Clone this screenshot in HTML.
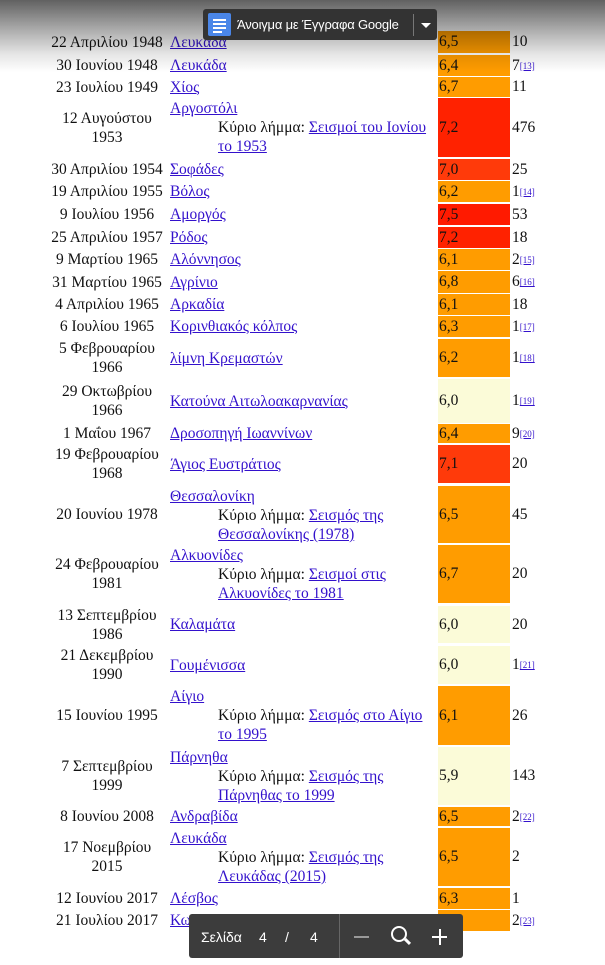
<!DOCTYPE html>
<html><head><meta charset="utf-8">
<style>
body{margin:0;width:605px;height:965px;overflow:hidden;background:#fff;position:relative;font-family:"Liberation Serif",serif;font-size:15.5px;color:#111}
.a{position:absolute}
a{color:#3311cc;text-decoration:underline}
.date{left:46px;width:122px;text-align:center;display:flex;align-items:center;justify-content:center;line-height:19px}
.place{left:170px;width:266px;line-height:19px}
.mag{left:438px;width:72px;display:flex;align-items:center;padding-left:1px;box-sizing:border-box}
.dead{left:512px;display:flex;align-items:center}
sup{font-size:9px;vertical-align:7px}
sup a{color:#3311cc}
.kl{padding-left:48px}
#fade{left:0;top:0;width:605px;height:72px;background:linear-gradient(rgba(0,0,0,.62) 0%,rgba(0,0,0,.3) 45%,rgba(0,0,0,.1) 75%,rgba(0,0,0,0) 100%);pointer-events:none}
#gdoc{left:203px;top:9px;width:234px;height:31px;background:#333;border-radius:3px;color:#fff;font-family:"Liberation Sans",sans-serif;font-size:13px}
#bar{left:189px;top:914px;width:274px;height:44px;background:#3c3c3c;border-radius:3px;color:#fff;font-family:"Liberation Sans",sans-serif;font-size:14px}
</style></head><body>
<div id="rows"></div>
<div class="a" id="fade"></div>
<div class="a" id="gdoc">
  <div class="a" style="left:5px;top:4px;width:23px;height:23px;background:#4a86e8;border-radius:2px">
    <div class="a" style="left:5px;top:6px;width:13px;height:2px;background:#fff"></div>
    <div class="a" style="left:5px;top:10px;width:13px;height:2px;background:#fff"></div>
    <div class="a" style="left:5px;top:14px;width:13px;height:2px;background:#fff"></div>
    <div class="a" style="left:5px;top:18px;width:9px;height:2px;background:#fff"></div>
  </div>
  <div class="a" style="left:34px;top:8px;letter-spacing:-0.2px">Άνοιγμα με Έγγραφα Google</div>
  <div class="a" style="left:210px;top:5px;width:1px;height:22px;background:#777"></div>
  <div class="a" style="left:218px;top:14px;width:0;height:0;border-left:5px solid transparent;border-right:5px solid transparent;border-top:5px solid #fff"></div>
</div>
<div class="a" id="bar">
  <div class="a" style="left:12px;top:15px">Σελίδα</div>
  <div class="a" style="left:70px;top:15px">4</div>
  <div class="a" style="left:96px;top:15px">/</div>
  <div class="a" style="left:121px;top:15px">4</div>
  <div class="a" style="left:150px;top:0;width:1px;height:44px;background:#666"></div>
  <div class="a" style="left:165px;top:22px;width:15px;height:2px;background:#999"></div>
  <div class="a" style="left:202px;top:12px;width:12px;height:12px;border:2px solid #fff;border-radius:50%"></div>
  <div class="a" style="left:215px;top:26px;width:7px;height:3px;background:#fff;transform:rotate(45deg)"></div>
  <div class="a" style="left:243px;top:22px;width:15px;height:2px;background:#fff"></div>
  <div class="a" style="left:249.5px;top:15px;width:2px;height:16px;background:#fff"></div>
</div>
<script>
const tops=[31,55,77,98,159,181,204,227,249,271,294,316,339,379,424,445,486,545,606,646,686,747,807,828,888,910];
const bottoms=[53,76,97,157,180,202,225,248,270,293,315,337,377,423,443,483,543,603,643,684,745,805,826,886,909,931];
const dates=[["22 Απριλίου 1948"],["30 Ιουνίου 1948"],["23 Ιουλίου 1949"],["12 Αυγούστου","1953"],["30 Απριλίου 1954"],["19 Απριλίου 1955"],["9 Ιουλίου 1956"],["25 Απριλίου 1957"],["9 Μαρτίου 1965"],["31 Μαρτίου 1965"],["4 Απριλίου 1965"],["6 Ιουλίου 1965"],["5 Φεβρουαρίου","1966"],["29 Οκτωβρίου","1966"],["1 Μαΐου 1967"],["19 Φεβρουαρίου","1968"],["20 Ιουνίου 1978"],["24 Φεβρουαρίου","1981"],["13 Σεπτεμβρίου","1986"],["21 Δεκεμβρίου","1990"],["15 Ιουνίου 1995"],["7 Σεπτεμβρίου","1999"],["8 Ιουνίου 2008"],["17 Νοεμβρίου","2015"],["12 Ιουνίου 2017"],["21 Ιουλίου 2017"]];
const places=["Λευκάδα","Λευκάδα","Χίος","Αργοστόλι","Σοφάδες","Βόλος","Αμοργός","Ρόδος","Αλόννησος","Αγρίνιο","Αρκαδία","Κορινθιακός κόλπος","λίμνη Κρεμαστών","Κατούνα Αιτωλοακαρνανίας","Δροσοπηγή Ιωαννίνων","Άγιος Ευστράτιος","Θεσσαλονίκη","Αλκυονίδες","Καλαμάτα","Γουμένισσα","Αίγιο","Πάρνηθα","Ανδραβίδα","Λευκάδα","Λέσβος","Κως"];
const mains={3:["Σεισμοί του Ιονίου ","το 1953"],16:["Σεισμός της ","Θεσσαλονίκης (1978)"],17:["Σεισμοί στις ","Αλκυονίδες το 1981"],20:["Σεισμός στο Αίγιο ","το 1995"],21:["Σεισμός της ","Πάρνηθας το 1999"],23:["Σεισμός της ","Λευκάδας (2015)"]};
const mags=[6.5,6.4,6.7,7.2,7.0,6.2,7.5,7.2,6.1,6.8,6.1,6.3,6.2,6.0,6.4,7.1,6.5,6.7,6.0,6.0,6.1,5.9,6.5,6.5,6.3,6.4];
const deaths=["10","7","11","476","25","1","53","18","2","6","18","1","1","1","9","20","45","20","20","1","26","143","2","2","1","2"];
const refs=[null,13,null,null,null,14,null,null,15,16,null,17,18,19,20,null,null,null,null,21,null,null,22,null,null,23];
function magColor(m){if(m<=6.0)return"#fbfbd8";if(m>=7.5)return"#ff1a00";if(m>=7.2)return"#ff2200";if(m>=7.0)return"#ff3a0a";return"#ff9c00";}
const root=document.getElementById('rows');
function mk(cls,t,h){const d=document.createElement('div');d.className='a '+cls;d.style.top=t+'px';d.style.height=h+'px';root.appendChild(d);return d;}
for(let i=0;i<tops.length;i++){
  const t=tops[i],h=bottoms[i]-tops[i];
  const dd=mk('date',t,h);
  
  
  dd.innerHTML=dates[i].join('<br>');
  const p=mk('place',t,h);
  
  
  if(mains[i]){
    p.innerHTML='<a>'+places[i]+'</a><div class="kl">Κύριο λήμμα: <a>'+mains[i][0]+'</a><br><a>'+mains[i][1]+'</a></div>';
    p.style.paddingTop='1px';
  } else {
    p.style.display='flex';p.style.alignItems='center';
    p.innerHTML='<a>'+places[i]+'</a>';
  }
  const m=mk('mag',t,h);
  
  
  m.style.background=magColor(mags[i]);
  m.textContent=mags[i].toFixed(1).replace('.',',');
  const d2=mk('dead',t,h);
  
  
  d2.innerHTML=deaths[i]+(refs[i]?'<sup><a>['+refs[i]+']</a></sup>':'');
}
</script>
</body></html>
